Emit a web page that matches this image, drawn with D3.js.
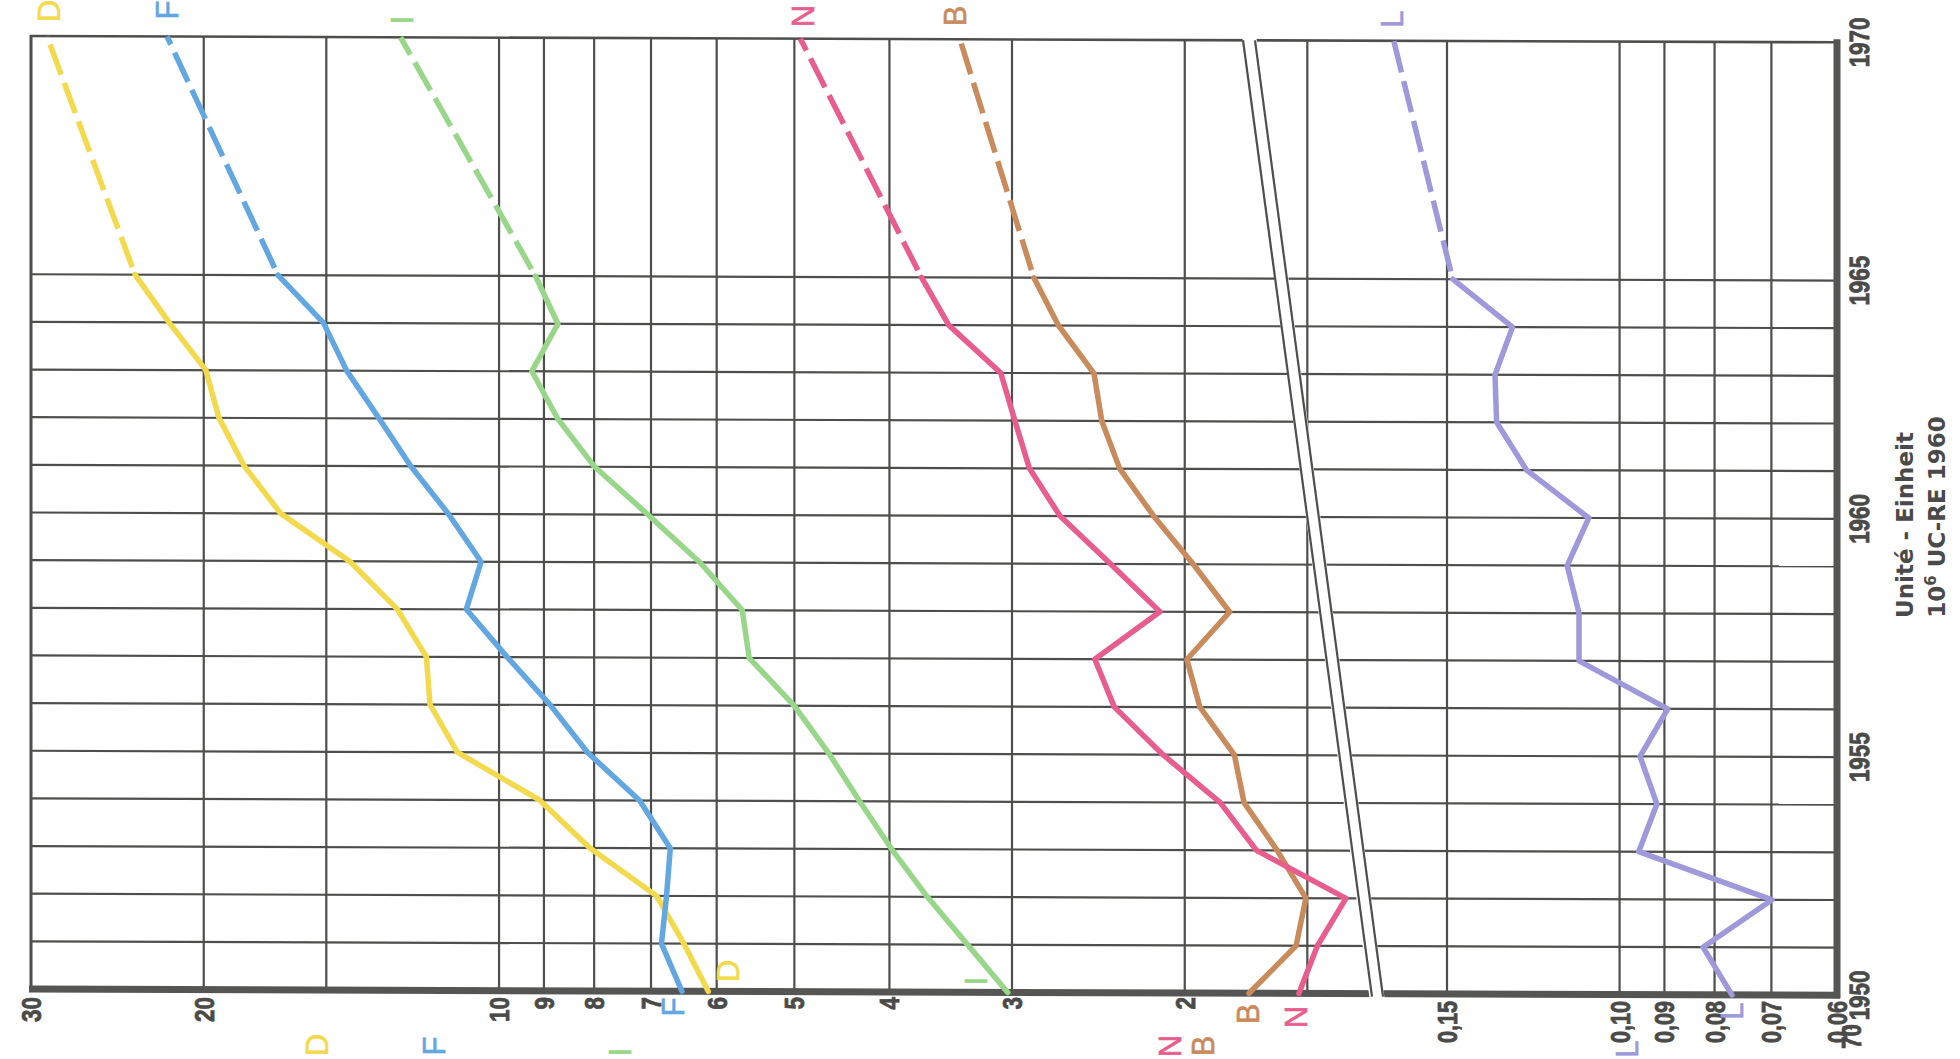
<!DOCTYPE html>
<html><head><meta charset="utf-8">
<script src="https://cdn.jsdelivr.net/npm/d3@7"></script>
<style>html,body{margin:0;padding:0;background:#fff;}svg{display:block;}</style>
</head><body>
<script>
// ---------- DATA ----------
const years = [1950,1951,1952,1953,1954,1955,1956,1957,1958,1959,1960,1961,1962,1963,1964,1965];
const projYear = 1970;
const seriesD = [6.12,6.48,6.91,8.08,9.09,11.03,11.76,11.86,12.7,14.2,16.7,18.2,19.3,19.9,21.7,23.5];
const seriesF = [6.51,6.83,6.75,6.69,7.19,8.12,8.87,9.81,10.8,10.43,11.26,12.3,13.25,14.3,15.1,16.8];
const seriesI = [3.03,3.33,3.66,3.98,4.29,4.61,5.00,5.56,5.65,6.24,7.05,7.99,8.71,9.26,8.71,9.18];
const seriesN = [1.53,1.465,1.37,1.69,1.84,2.105,2.36,2.47,2.12,2.38,2.68,2.88,2.98,3.08,3.48,3.71];
const seriesB = [1.72,1.54,1.505,1.61,1.74,1.78,1.93,1.99,1.80,1.96,2.15,2.33,2.43,2.475,2.69,2.85];
const seriesL = [0.0768,0.0822,0.0699,0.0956,0.0916,0.0953,0.0893,0.110,0.110,0.1131,0.1075,0.1244,0.1335,0.134,0.1286,0.148];
const proj1970 = {D:28.9, F:21.8, I:12.6, N:4.93, B:3.39, L:0.170};
const leftTicks = [30,20,10,9,8,7,6,5,4,3,2];
const leftGrid = [20,15,10,9,8,7,6,5,4,3,2,1.5];
const rightTicks = [0.15,0.10,0.09,0.08,0.07,0.06];
const rightTickLabels = ["0,15","0,10","0,09","0,08","0,07","0,06"];
const rightGrid = [0.15,0.10,0.09,0.08,0.07];
const yearLabels = [1950,1955,1960,1965,1970];
const gridYears = [1951,1952,1953,1954,1955,1956,1957,1958,1959,1960,1961,1962,1963,1964,1965];
const unitLine1 = "Unité - Einheit";
const unitLine2a = "10", unitLine2sup = "6", unitLine2b = " UC-RE 1960";

const colors = {D:"#f3d94c", F:"#62a6e2", I:"#98d68a", N:"#e85d8d", B:"#c98a5c", L:"#9e99da"};
const gridColor = "#4e4e4c";
const textColor = "#4a4a48";

// ---------- SVG ----------
const W = 1960, H = 1059;
const svg = d3.select("body").append("svg").attr("width", W).attr("height", H);
svg.append("rect").attr("width", W).attr("height", H).attr("fill", "#fff");

const yS = d3.scaleLinear().domain([1950, 1970]).range([989, 36]);
const xL = d3.scaleLog().domain([30, 3]).range([31, 1012]);
const xR = d3.scaleLog().domain([0.06, 0.15]).range([1837, 1447]);

const pTop = yS(1970), pBot = yS(1950), pLeft = xL(30), pRight = xR(0.06);

const g = svg.append("g").attr("transform", `matrix(1,0.0035,0,1,0,${-0.0035*31})`);

// horizontal grid
g.selectAll("line.hy").data(gridYears).join("line").attr("class","hy")
  .attr("x1", pLeft).attr("x2", pRight)
  .attr("y1", d => yS(d)).attr("y2", d => yS(d))
  .attr("stroke", gridColor).attr("stroke-width", 2.2);
// vertical grid
g.selectAll("line.vl").data(leftGrid).join("line").attr("class","vl")
  .attr("x1", d => xL(d)).attr("x2", d => xL(d))
  .attr("y1", pTop).attr("y2", pBot)
  .attr("stroke", gridColor).attr("stroke-width", 2.2);
g.selectAll("line.vr").data(rightGrid).join("line").attr("class","vr")
  .attr("x1", d => xR(d)).attr("x2", d => xR(d))
  .attr("y1", pTop).attr("y2", pBot)
  .attr("stroke", gridColor).attr("stroke-width", 2.2);

// frame
g.append("line").attr("x1", pLeft).attr("x2", pLeft).attr("y1", pTop - 1).attr("y2", pBot)
  .attr("stroke", gridColor).attr("stroke-width", 3);
g.append("line").attr("x1", pLeft - 1).attr("x2", pRight).attr("y1", pTop).attr("y2", pTop)
  .attr("stroke", gridColor).attr("stroke-width", 2.6);
g.append("line").attr("x1", pLeft - 2).attr("x2", pRight + 3).attr("y1", pBot).attr("y2", pBot)
  .attr("stroke", "#555553").attr("stroke-width", 7);
g.append("line").attr("x1", pRight).attr("x2", pRight).attr("y1", pTop - 3).attr("y2", pBot + 3)
  .attr("stroke", "#555553").attr("stroke-width", 7);

// axis break
const bk = [[1242, pTop - 6], [1256, pTop - 6], [1385, pBot + 8], [1370, pBot + 8]];
g.append("polygon").attr("points", bk.map(p => p.join(",")).join(" ")).attr("fill", "#fff");
g.append("line").attr("x1", 1243).attr("y1", pTop).attr("x2", 1372).attr("y2", pBot + 3)
  .attr("stroke", gridColor).attr("stroke-width", 2.2);
g.append("line").attr("x1", 1255).attr("y1", pTop).attr("x2", 1383).attr("y2", pBot + 3)
  .attr("stroke", gridColor).attr("stroke-width", 2.2);

// data lines
const defs = [
  {k:"D", vals:seriesD, sc:xL}, {k:"F", vals:seriesF, sc:xL}, {k:"I", vals:seriesI, sc:xL},
  {k:"B", vals:seriesB, sc:xL}, {k:"N", vals:seriesN, sc:xL}, {k:"L", vals:seriesL, sc:xR}
];
defs.forEach(s => {
  const pts = years.map((y, i) => ({year: y, v: s.vals[i]}));
  const line = d3.line().x(d => s.sc(d.v)).y(d => yS(d.year));
  g.append("path").attr("d", line(pts)).attr("fill", "none")
    .attr("stroke", colors[s.k]).attr("stroke-width", 5.5)
    .attr("stroke-linejoin", "round").attr("stroke-linecap", "round");
  const last = pts[pts.length - 1];
  const dpts = [last, {year: projYear, v: proj1970[s.k]}];
  g.append("path").attr("d", line(dpts)).attr("fill", "none")
    .attr("stroke", colors[s.k]).attr("stroke-width", 5.5)
    .attr("stroke-dasharray", "32,9").attr("stroke-dashoffset", -8);
});

// fonts
const tickFont = "'Liberation Sans','Arial',sans-serif";
const narrow = 0.8;

// year labels (right)
g.selectAll("text.yr").data(yearLabels).join("text").attr("class","yr")
  .attr("transform", d => `translate(1869,${yS(d)}) rotate(-90) scale(${narrow},1)`)
  .attr("text-anchor", "middle").attr("font-family", tickFont).attr("font-weight", "bold")
  .attr("font-size", 28).attr("fill", textColor).attr("stroke", textColor).attr("stroke-width", 0.8)
  .text(d => d);

// value tick labels
svg.selectAll("text.lt").data(leftTicks).join("text").attr("class","lt")
  .attr("transform", d => `translate(${xL(d) + 10},${997}) rotate(-90) scale(${narrow},1)`)
  .attr("text-anchor", "end").attr("font-family", tickFont).attr("font-weight", "bold")
  .attr("font-size", 28).attr("fill", textColor).attr("stroke", textColor).attr("stroke-width", 0.8)
  .text(d => d);
svg.selectAll("text.rt").data(rightTicks).join("text").attr("class","rt")
  .attr("transform", d => `translate(${xR(d) + 10},${1001}) rotate(-90) scale(${narrow},1)`)
  .attr("text-anchor", "end").attr("font-family", tickFont).attr("font-weight", "bold")
  .attr("font-size", 27).attr("fill", textColor).attr("stroke", textColor).attr("stroke-width", 0.8)
  .text((d, i) => rightTickLabels[i]);

// stray cut label at the bottom edge
svg.append("text").attr("transform", `translate(1861,1024) rotate(-90) scale(${narrow},1)`)
  .attr("text-anchor", "end").attr("font-family", tickFont).attr("font-weight", "bold")
  .attr("font-size", 28).attr("fill", textColor).attr("stroke", textColor).attr("stroke-width", 0.8)
  .text("70");

// unit labels
svg.append("text").attr("transform", "translate(1913,525) rotate(-90)")
  .attr("text-anchor", "middle").attr("font-family", "'DejaVu Sans',sans-serif").attr("font-weight", "bold")
  .attr("font-size", 23).attr("fill", textColor).text(unitLine1);
const u2 = svg.append("text").attr("transform", "translate(1945,517) rotate(-90)")
  .attr("text-anchor", "middle").attr("font-family", "'DejaVu Sans',sans-serif").attr("font-weight", "bold")
  .attr("font-size", 23).attr("fill", textColor);
u2.append("tspan").text(unitLine2a);
u2.append("tspan").attr("font-size", 15).attr("dy", -9).text(unitLine2sup);
u2.append("tspan").attr("dy", 9).text(unitLine2b);

// series letters
const letters = [
  ["D",49,11],["F",167,10],["I",402,20],["N",803,16],["B",955,16],["L",1392,19],
  ["D",317,1045],["F",434,1046],["I",620,1052],["F",673,1007],["D",728,971],["I",976,981],
  ["N",1170,1046],["B",1203,1046],["B",1248,1014],["N",1296,1017],["L",1732,1011],["L",1627,1049]
];
svg.selectAll("text.lab").data(letters).join("text").attr("class","lab")
  .attr("transform", d => `translate(${d[1] + 11},${d[2]}) rotate(-90)`)
  .attr("text-anchor", "middle").attr("font-family", "'Liberation Sans','DejaVu Sans',sans-serif")
  .attr("font-size", 31).attr("fill", d => colors[d[0]])
  .attr("stroke", d => colors[d[0]]).attr("stroke-width", 0.6)
  .text(d => d[0]);
</script>
</body></html>
